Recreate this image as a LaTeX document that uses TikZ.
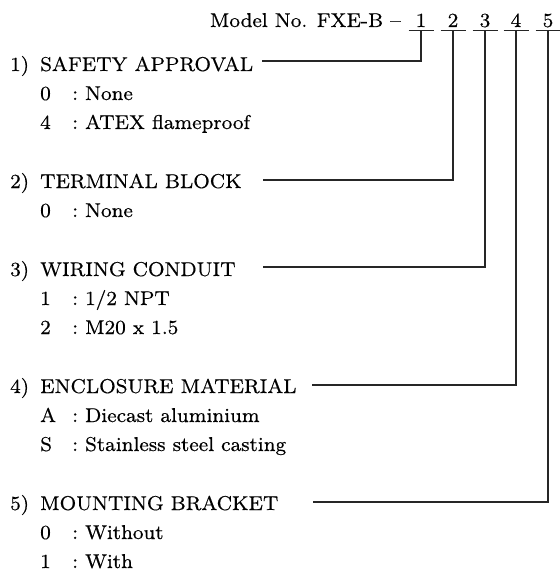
\documentclass[tikz,border=0pt]{standalone}
\usepackage{fontspec}
\usetikzlibrary{calc}
\newfontfamily\lmeight{lmroman8-regular.otf}[FakeBold=0.45]
\begin{document}
\begin{tikzpicture}[x=1pt,y=-1pt,
  txt/.style={inner sep=0pt, anchor=base west, font=\lmeight\fontsize{20}{24}\selectfont},
  wire/.style={line width=1.1pt, draw=black!85}]
\useasboundingbox (0,0) rectangle (559,572);
\newcommand{\itm}[2]{\makebox[32pt][l]{#1}:\hspace{7pt}#2}
% title and code digits
\node[txt, anchor=base east] (title) at (401,27) {Model No. FXE-B –};
\foreach \d/\x in {1/421,2/453,3/485,4/516,5/548}{
  \node[txt, anchor=base] (d\d) at (\x,27) {\d};
  \coordinate (u\d) at (\x,30.5);
  \draw[wire] ($(u\d)+(-12.5,0)$) -- ($(u\d)+(12.5,0)$);
}
% 1) safety approval
\node[txt] (n1) at (10,71) {1)};
\node[txt] (h1) at (40,71) {SAFETY APPROVAL};
\node[txt] (i11) at (40,100) {\itm{0}{None}};
\node[txt] (i12) at (40,129) {\itm{4}{ATEX flameproof}};
% 2) terminal block
\node[txt] (n2) at (10,188) {2)};
\node[txt] (h2) at (40,188) {TERMINAL BLOCK};
\node[txt] (i21) at (40,217) {\itm{0}{None}};
% 3) wiring conduit
\node[txt] (n3) at (10,276) {3)};
\node[txt] (h3) at (40,276) {WIRING CONDUIT};
\node[txt] (i31) at (40,305) {\itm{1}{1/2 NPT}};
\node[txt] (i32) at (40,334) {\itm{2}{M20 x 1.5}};
% 4) enclosure material
\node[txt] (n4) at (10,393) {4)};
\node[txt] (h4) at (40,393) {ENCLOSURE MATERIAL};
\node[txt] (i41) at (40,422) {\itm{A}{Diecast aluminium}};
\node[txt] (i42) at (40,451) {\itm{S}{Stainless steel casting}};
% 5) mounting bracket
\node[txt] (n5) at (10,510) {5)};
\node[txt] (h5) at (40,510) {MOUNTING BRACKET};
\node[txt] (i51) at (40,539) {\itm{0}{Without}};
\node[txt] (i52) at (40,568) {\itm{1}{With}};
% leader lines
\coordinate (s1) at (262,61);
\coordinate (s2) at (263,180);
\coordinate (s3) at (263,267);
\coordinate (s4) at (312,385);
\coordinate (s5) at (313,502);
\foreach \k in {1,...,5}{ \draw[wire] (s\k) -| (u\k); }
\end{tikzpicture}
\end{document}
